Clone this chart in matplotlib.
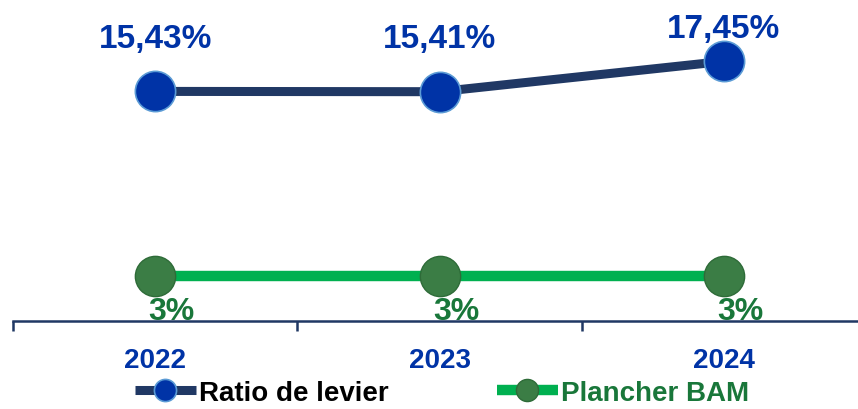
import matplotlib.pyplot as plt
from matplotlib import font_manager

# data
years = ['2022', '2023', '2024']
ratio_levier = [15.43, 15.41, 17.45]
plancher_bam = [3, 3, 3]
ratio_labels = ['15,43%', '15,41%', '17,45%']
bam_labels = ['3%', '3%', '3%']

names = [f.name for f in font_manager.fontManager.ttflist]
fam = 'Liberation Sans Narrow' if 'Liberation Sans Narrow' in names else 'Liberation Sans'
plt.rcParams['font.family'] = [fam, 'DejaVu Sans']
plt.rcParams['font.weight'] = 'bold'

navy = '#203864'
blue = '#0033A6'
green_line = '#00B050'
green_dot = '#3B7D45'
green_txt = '#19773A'

fig = plt.figure(figsize=(8.58, 4.10), dpi=100)
ax = fig.add_axes([13 / 858, 88 / 410, 853 / 858, 322 / 410])

x = list(range(len(years)))
ax.plot(x, ratio_levier, color=navy, lw=6.5, marker='o', ms=29,
        mfc=blue, mec='#5B9BD5', mew=1.2, solid_capstyle='butt', zorder=3,
        label='Ratio de levier')
ax.plot(x, plancher_bam, color=green_line, lw=7.5, marker='o', ms=29,
        mfc=green_dot, mec='#2E6B38', mew=1.0, solid_capstyle='butt', zorder=3,
        label='Plancher BAM')

# label offsets in points (last one pushed down by the frame top in the original)
up_off = [38, 38, 24]
for i, (v, t) in enumerate(zip(ratio_levier, ratio_labels)):
    ax.annotate(t, (i, v), xytext=(0, up_off[i]), textcoords='offset points',
                ha='center', va='center', color=blue, fontsize=24, fontweight='bold')
for i, (v, t) in enumerate(zip(plancher_bam, bam_labels)):
    ax.annotate(t, (i, v), xytext=(12, -25), textcoords='offset points',
                ha='center', va='center', color=green_txt, fontsize=23, fontweight='bold',
                zorder=4)

ax.set_xlim(-0.5, 2.5)
ax.set_ylim(0, 322 / 14.88)
ax.set_xticks([-0.5, 0.5, 1.5, 2.5])
ax.set_xticklabels([])
ax.set_xticks(x, minor=True)
ax.set_xticklabels(years, minor=True)
ax.tick_params(axis='x', which='major', length=7, width=1.8, color=navy, direction='out')
ax.tick_params(axis='x', which='minor', length=0, pad=19, labelsize=20, labelcolor=blue)
for lbl in ax.get_xticklabels(minor=True):
    lbl.set_fontweight('bold')
ax.set_yticks([])
for s in ['top', 'right', 'left']:
    ax.spines[s].set_visible(False)
ax.spines['bottom'].set_color(navy)
ax.spines['bottom'].set_linewidth(1.8)

leg = fig.legend(loc='center', bbox_to_anchor=(0.515, 0.04), ncol=2, frameon=False,
                 fontsize=20, handlelength=2.2, handletextpad=0.1, columnspacing=3.9,
                 markerscale=0.55)
leg.get_texts()[0].set_color('black')
leg.get_texts()[1].set_color(green_txt)
for t in leg.get_texts():
    t.set_fontweight('bold')

fig.savefig('out.png', dpi=100)
